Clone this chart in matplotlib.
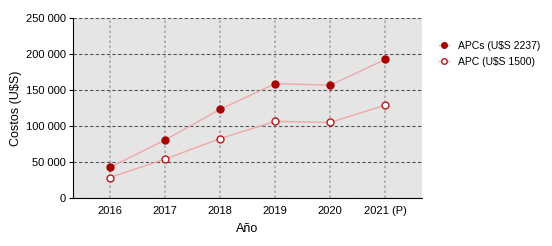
import matplotlib
matplotlib.use("Agg")
import matplotlib.pyplot as plt
from matplotlib.ticker import FuncFormatter

years = ["2016", "2017", "2018", "2019", "2020", "2021 (P)"]
apcs_2237 = [42503, 80532, 123035, 158827, 156590, 192382]
apc_1500 = [28500, 54000, 82500, 106500, 105000, 129000]
y_ticks = [0, 50000, 100000, 150000, 200000, 250000]

plt.rcParams["font.family"] = ["Liberation Sans", "DejaVu Sans"]

fig = plt.figure(figsize=(5.52, 2.46), dpi=100)
ax = fig.add_axes([0.132, 0.195, 0.633, 0.732])
ax.set_facecolor("#e5e5e5")

x = list(range(len(years)))
ax.plot(x, apcs_2237, color="#f0a8a8", linewidth=1.0, marker="o", markersize=5,
        markerfacecolor="#a80000", markeredgecolor="#a80000", label="APCs (U$S 2237)", zorder=3)
ax.plot(x, apc_1500, color="#f0a8a8", linewidth=1.0, marker="o", markersize=5,
        markerfacecolor="white", markeredgecolor="#b81818", markeredgewidth=1.0,
        label="APC (U$S 1500)", zorder=3)

ax.set_xlim(-0.67, 5.67)
ax.set_ylim(0, 250000)
ax.set_xticks(x)
ax.set_xticklabels(years)
ax.set_yticks(y_ticks)
ax.yaxis.set_major_formatter(FuncFormatter(lambda v, p: f"{int(v):,}".replace(",", " ")))

ax.yaxis.grid(True, color="#555555", linestyle=(0, (3, 2)), linewidth=0.8)
ax.xaxis.grid(True, color="#a8a8a8", linestyle=(0, (1.5, 1.5)), linewidth=1.2)
ax.set_axisbelow(True)

for s in ["top", "right"]:
    ax.spines[s].set_visible(False)
ax.spines["left"].set_color("black")
ax.spines["bottom"].set_color("black")
ax.tick_params(axis="x", length=0, labelsize=8, pad=6)
ax.tick_params(axis="y", length=3, labelsize=8, pad=2)

ax.set_xlabel("Año", fontsize=9, labelpad=5)
ax.set_ylabel("Costos (U$S)", fontsize=9, labelpad=3)

ax.legend(loc="upper left", bbox_to_anchor=(1.02, 0.925), frameon=False, fontsize=7.5,
          handlelength=1.0, handletextpad=0.9, labelspacing=0.6, markerscale=0.8)

fig.savefig("out.png", dpi=100)
